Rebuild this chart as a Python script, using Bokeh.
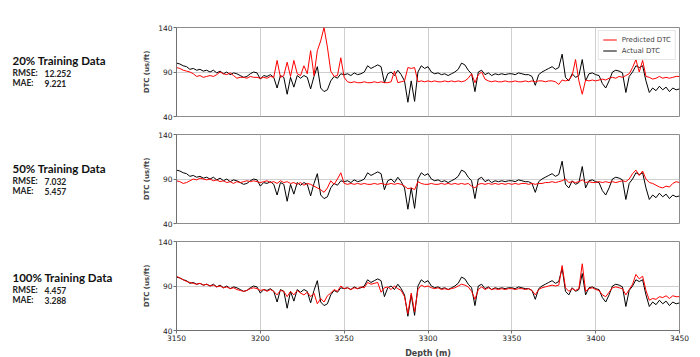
from bokeh.plotting import figure
from bokeh.layouts import column, row
from bokeh.models import Range1d, FixedTicker, Label, Legend, LegendItem
from bokeh.embed import file_html
from bokeh.resources import INLINE

# ---------------- data ----------------
depth = list(range(3150, 3451, 2))

actual_dtc = [
    100, 99, 97, 96, 93, 94, 92, 93, 91, 92,
    90, 92, 89, 91, 88, 90, 87, 89, 88, 86,
    84, 85, 88, 90, 89, 82, 86, 85, 87, 84,
    72, 86, 84, 65, 84, 73, 86, 83, 86, 84,
    71, 85, 96, 72, 68, 70, 80, 85, 83, 88,
    87, 88, 86, 89, 87, 88, 90, 97, 94, 96,
    98, 96, 78, 88, 90, 86, 92, 87, 80, 56,
    80, 57, 90, 97, 94, 96, 90, 88, 89, 87,
    88, 86, 88, 90, 93, 100, 98, 92, 88, 68,
    90, 92, 87, 89, 86, 88, 87, 88, 87, 88,
    88, 87, 89, 88, 87, 87, 85, 75, 87, 90,
    92, 94, 96, 93, 95, 110, 84, 80, 88, 84,
    86, 104, 80, 88, 89, 87, 86, 77, 72, 80,
    90, 92, 91, 89, 67, 85, 90, 97, 95, 97,
    80, 67, 72, 69, 74, 70, 73, 68, 72, 70,
    71,
]

pred_20 = [
    95, 94, 92, 91, 90, 88, 85, 86, 84, 85,
    86, 85, 87, 90, 88, 87, 89, 86, 83, 84,
    84, 83, 85, 84, 84, 83, 84, 83, 85, 84,
    103, 84, 86, 101, 85, 103, 88, 86, 97, 88,
    114, 86, 114, 125, 140, 118, 91, 85, 86, 106,
    84, 79, 78, 79, 78, 78, 79, 78, 78, 79,
    78, 79, 78, 78, 79, 91, 78, 79, 80, 95,
    94, 95, 79, 80, 79, 80, 79, 80, 79, 79,
    80, 79, 80, 79, 80, 79, 80, 83, 88, 78,
    87, 90, 82, 80, 79, 80, 79, 79, 80, 79,
    79, 80, 79, 79, 80, 79, 80, 79, 80, 80,
    79, 80, 80, 79, 76, 81, 80, 81, 86, 104,
    80, 65, 81, 80, 81, 80, 81, 82, 81, 83,
    84, 83, 85, 84, 86, 88, 95, 104, 90, 103,
    85, 84, 82, 83, 85, 83, 84, 83, 84, 85,
    85,
]

pred_50 = [
    88, 87, 85, 86, 88, 90, 89, 91, 90, 89,
    90, 88, 89, 87, 88, 86, 87, 85, 87, 86,
    87, 88, 87, 88, 87, 86, 87, 88, 86, 87,
    85, 88, 86, 87, 85, 86, 84, 86, 83, 85,
    84, 82, 80, 78, 75, 80, 88, 84, 90, 97,
    85, 84, 85, 84, 85, 84, 85, 84, 84, 85,
    84, 85, 84, 84, 85, 84, 85, 84, 82, 79,
    80, 78, 87, 85, 84, 84, 85, 84, 84, 85,
    84, 85, 84, 85, 84, 85, 84, 85, 82, 80,
    84, 85, 84, 85, 84, 85, 84, 85, 84, 85,
    84, 85, 84, 85, 85, 84, 85, 84, 85, 85,
    86, 86, 87, 86, 87, 88, 90, 86, 87, 86,
    87, 89, 86, 87, 86, 86, 87, 86, 87, 86,
    87, 86, 87, 88, 87, 90, 96, 100, 94, 99,
    90, 86, 85, 83, 81, 80, 82, 81, 85, 87,
    86,
]

pred_100 = [
    101, 99, 97, 95, 94, 93, 92, 93, 91, 92,
    90, 91, 89, 90, 88, 89, 87, 88, 86, 85,
    84, 85, 87, 88, 87, 85, 86, 84, 86, 84,
    80, 85, 84, 78, 84, 80, 85, 82, 80, 83,
    78, 82, 70, 76, 72, 79, 82, 86, 84, 90,
    87, 88, 86, 88, 87, 89, 88, 94, 92, 93,
    94, 83, 88, 89, 86, 90, 87, 85, 78, 59,
    82, 61, 86, 91, 89, 90, 88, 87, 88, 86,
    87, 86, 87, 88, 90, 92, 91, 89, 84, 75,
    86, 89, 86, 88, 86, 87, 86, 87, 86, 87,
    87, 86, 87, 87, 86, 87, 85, 80, 86, 88,
    89, 90, 91, 90, 91, 113, 88, 84, 87, 85,
    87, 115, 84, 87, 88, 86, 85, 80, 78, 83,
    88, 89, 88, 87, 80, 86, 92, 103, 98, 101,
    85, 74, 76, 75, 78, 77, 79, 76, 79, 78,
    78,
]

panel_titles = ["20% Training Data", "50% Training Data", "100% Training Data"]
rmse_values = ["12.252", "7.032", "4.457"]
mae_values = ["9.221", "5.457", "3.288"]
predictions = [pred_20, pred_50, pred_100]

x_ticks = [3150, 3200, 3250, 3300, 3350, 3400, 3450]
y_ticks = [40, 90, 140]

# ---------------- layout ----------------
TOTAL_W, TOTAL_H = 700, 357
LEFT_W = 130
FRAME_W = 503
FRAME_H = 89
borders = [(27, 9), (9, 9), (9, 27)]
TICK_FONT = "DejaVu Sans"
TEXT_FONT = "Lato"

# left text panel (pixel-like coordinates, y downwards)
tp = figure(width=LEFT_W, height=TOTAL_H, x_range=Range1d(0, LEFT_W),
            y_range=Range1d(TOTAL_H, 0), output_backend="svg",
            toolbar_location=None, min_border=0, outline_line_color=None)
tp.axis.visible = False
tp.grid.visible = False
panel_text_y = [60, 168, 277]
for i in range(3):
    y0 = panel_text_y[i]
    tp.add_layout(Label(x=12, y=y0, text=panel_titles[i], text_font=TEXT_FONT,
                        text_font_style="bold", text_font_size="11.5px",
                        text_baseline="middle", text_color="#111111"))
    tp.add_layout(Label(x=12, y=y0 + 12.5, text="RMSE:", text_font=TEXT_FONT,
                        text_font_style="bold", text_font_size="8.5px",
                        text_baseline="middle", text_color="#222222"))
    tp.add_layout(Label(x=44, y=y0 + 12.5, text=rmse_values[i], text_font=TEXT_FONT,
                        text_font_style="bold", text_font_size="8.5px",
                        text_baseline="middle", text_color="#222222"))
    tp.add_layout(Label(x=12, y=y0 + 22.5, text="MAE:", text_font=TEXT_FONT,
                        text_font_style="bold", text_font_size="8.5px",
                        text_baseline="middle", text_color="#222222"))
    tp.add_layout(Label(x=44, y=y0 + 22.5, text=mae_values[i], text_font=TEXT_FONT,
                        text_font_style="bold", text_font_size="8.5px",
                        text_baseline="middle", text_color="#222222"))

x_range = Range1d(3150, 3450)
figs = []
for i in range(3):
    top, bottom = borders[i]
    p = figure(frame_width=FRAME_W, frame_height=FRAME_H, x_range=x_range,
               y_range=Range1d(40, 140), output_backend="svg",
               toolbar_location=None, min_border_left=176 - LEFT_W,
               min_border_right=TOTAL_W - 176 - FRAME_W, min_border_top=top,
               min_border_bottom=bottom)
    p.outline_line_color = "#8c8c8c"
    p.outline_line_width = 1

    p.xaxis.ticker = FixedTicker(ticks=x_ticks)
    p.yaxis.ticker = FixedTicker(ticks=y_ticks)
    p.xgrid.ticker = FixedTicker(ticks=x_ticks[1:-1])
    p.ygrid.ticker = FixedTicker(ticks=[90])
    p.xgrid.grid_line_color = "#cfcfcf"
    p.ygrid.grid_line_color = "#cfcfcf"

    for ax in (p.xaxis[0], p.yaxis[0]):
        ax.axis_line_color = "#707070"
        ax.major_tick_line_color = "#707070"
        ax.major_tick_out = 3
        ax.major_tick_in = 0
        ax.minor_tick_line_color = None
        ax.major_label_text_font = TICK_FONT
        ax.major_label_text_font_size = "7.5px"
        ax.major_label_text_color = "#222222"
        ax.major_label_standoff = 1

    p.yaxis.axis_label = "DTC (us/ft)"
    p.yaxis.axis_label_text_font = TICK_FONT
    p.yaxis.axis_label_text_font_style = "bold"
    p.yaxis.axis_label_text_font_size = "7px"
    p.yaxis.axis_label_standoff = 4

    if i < 2:
        p.xaxis.visible = False
    else:
        p.xaxis.axis_label = "Depth (m)"
        p.xaxis.axis_label_text_font = TICK_FONT
        p.xaxis.axis_label_text_font_style = "bold"
        p.xaxis.axis_label_text_font_size = "8px"
        p.xaxis.axis_label_standoff = 5

    r_act = p.line(depth, actual_dtc, line_color="#000000", line_width=1)
    r_pred = p.line(depth, predictions[i], line_color="#ff0000", line_width=1)

    if i == 0:
        legend = Legend(items=[LegendItem(label="Predicted DTC", renderers=[r_pred]),
                               LegendItem(label="Actual DTC", renderers=[r_act])],
                        location="top_right")
        legend.label_text_font = TICK_FONT
        legend.label_text_font_size = "7px"
        legend.label_height = 9
        legend.glyph_height = 9
        legend.glyph_width = 14
        legend.spacing = 2
        legend.padding = 4
        legend.margin = 3
        legend.label_standoff = 5
        legend.border_line_color = "#cccccc"
        legend.background_fill_alpha = 0.9
        p.add_layout(legend)
    figs.append(p)

layout = row(tp, column(*figs, spacing=0), spacing=0)
open("out.html", "w").write(file_html(layout, INLINE))
